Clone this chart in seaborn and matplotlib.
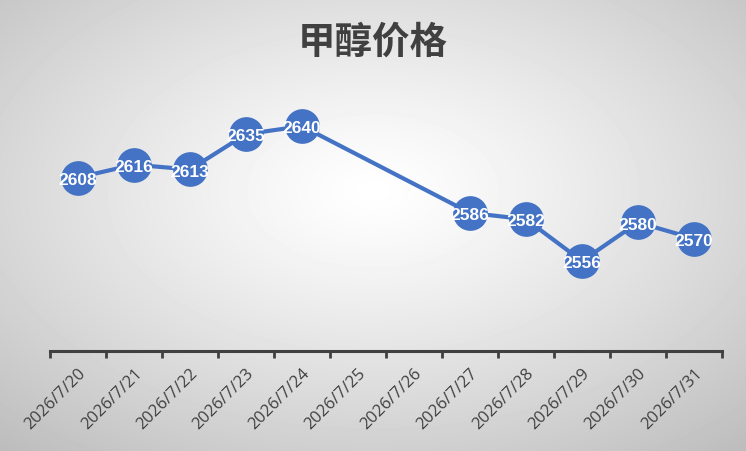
import numpy as np
import pandas as pd
import matplotlib
matplotlib.use("Agg")
import matplotlib.pyplot as plt
import seaborn as sns

dates = ["2026/7/20", "2026/7/21", "2026/7/22", "2026/7/23", "2026/7/24", "2026/7/25",
         "2026/7/26", "2026/7/27", "2026/7/28", "2026/7/29", "2026/7/30", "2026/7/31"]
prices = [2608, 2616, 2613, 2635, 2640, None, None, 2586, 2582, 2556, 2580, 2570]
title = "甲醇价格"

sns.set_style("white")
plt.rcParams['font.family'] = ['Noto Sans CJK SC', 'DejaVu Sans']

df = pd.DataFrame({"pos": np.arange(len(dates)), "date": dates, "price": prices})
df["price"] = df["price"].astype(float)
valid = df.dropna()

fig = plt.figure(figsize=(7.46, 4.52), dpi=100)

# radial gradient background
bg = fig.add_axes([0, 0, 1, 1], zorder=0)
yy, xx = np.mgrid[-1:1:452j, -1:1:746j]
r = np.sqrt(xx ** 2 + (yy + 0.15) ** 2) / np.sqrt(2)
bg.imshow(1 - 0.24 * r ** 1.2, cmap="gray", vmin=0, vmax=1, aspect="auto",
          extent=[0, 1, 0, 1])
bg.axis("off")

W, H = 746, 452
ax = fig.add_axes([50 / W, 1 - 352 / H, 672 / W, 257 / H], zorder=1)
ax.patch.set_alpha(0)

blue = "#4472C4"
sns.lineplot(data=valid, x="pos", y="price", ax=ax, color=blue, linewidth=3,
             marker="o", markersize=25, markeredgewidth=0)

for _, row in valid.iterrows():
    ax.text(row["pos"], row["price"] - 1, f"{int(row['price'])}", color="white",
            fontsize=12.5, fontweight="bold", ha="center", va="center",
            family=["Liberation Sans"], zorder=5)

ax.set_xlim(-0.5, len(dates) - 0.5)
ax.set_ylim(2500, 2660)
ax.set_yticks([])
ax.set_xticks(np.arange(-0.5, len(dates), 1.0))
ax.set_xticklabels([])
ax.set_xticks(np.arange(len(dates)), minor=True)
ax.set_xticklabels(dates, minor=True, rotation=45, ha="right",
                   rotation_mode="anchor", fontsize=12, color="#404040",
                   family=["Open Sans"])
ax.tick_params(axis="x", which="major", bottom=True, length=5, width=2,
               color="#404040", direction="out")
ax.tick_params(axis="x", which="minor", bottom=True, labelbottom=True,
               length=0, pad=10)
ax.set_xlabel("")
ax.set_ylabel("")
for s in ["top", "right", "left"]:
    ax.spines[s].set_visible(False)
ax.spines["bottom"].set_color("#404040")
ax.spines["bottom"].set_linewidth(2.2)

fig.text(373 / W, 1 - 42 / H, title, ha="center", va="center", fontsize=27,
         fontweight="bold", color="#404040")

fig.savefig("out.png", dpi=100)
